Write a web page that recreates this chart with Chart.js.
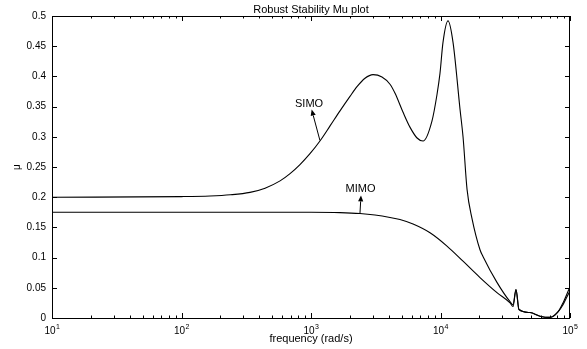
<!DOCTYPE html>
<html><head><meta charset="utf-8">
<script src="https://cdn.jsdelivr.net/npm/chart.js@4/dist/chart.umd.min.js"></script>
<style>html,body{margin:0;padding:0;background:#fff;}canvas{display:block;}</style>
</head><body>
<canvas id="c" width="587" height="349"></canvas>
<script>
// ---- data ----
const simoFreq = [10, 100, 166, 239, 338, 442, 577, 689, 822, 982, 1172, 1403, 1675, 2000, 2265, 2612, 3013, 3532, 4074, 4457, 5129, 5808, 6592, 7328, 8590, 9397, 9908, 10447, 11429, 12503, 14158, 14928, 16032, 17498, 20184, 21281, 27290, 34435, 36308, 38282, 40365, 49091, 58614, 70146, 80724, 88308, 100000];
const simoMu = [0.200, 0.201, 0.202, 0.204, 0.208, 0.215, 0.227, 0.239, 0.254, 0.272, 0.293, 0.318, 0.343, 0.367, 0.383, 0.397, 0.403, 0.399, 0.387, 0.372, 0.341, 0.316, 0.298, 0.293, 0.326, 0.370, 0.405, 0.456, 0.492, 0.456, 0.345, 0.300, 0.213, 0.165, 0.113, 0.102, 0.059, 0.027, 0.022, 0.047, 0.014, 0.009, 0.003, 0.001, 0.010, 0.025, 0.052];
const mimoFreq = [10, 100, 1000, 1675, 2388, 3119, 4074, 4864, 6138, 8299, 11220, 14928, 20184, 27290, 34435, 36308, 38282, 40365, 49091, 58614, 70146, 80724, 88308, 93111, 100000];
const mimoMu = [0.175, 0.175, 0.175, 0.1745, 0.173, 0.1705, 0.1665, 0.163, 0.1555, 0.141, 0.119, 0.094, 0.067, 0.042, 0.025, 0.019, 0.047, 0.014, 0.009, 0.003, 0.001, 0.010, 0.022, 0.032, 0.045];
const xTickValues = [10, 100, 1000, 10000, 100000];
const xTickBases = ['10', '10', '10', '10', '10'];
const xTickExps = ['1', '2', '3', '4', '5'];
const yTickValues = [0, 0.05, 0.1, 0.15, 0.2, 0.25, 0.3, 0.35, 0.4, 0.45, 0.5];
const titleText = 'Robust Stability Mu plot';
const xTitle = 'frequency (rad/s)';
const yTitle = 'μ';
const annotations = [
  {label: 'SIMO', textX: 966, textY: 0.355, tipX: 1012, tipY: 0.345, tailX: 1172, tailY: 0.294},
  {label: 'MIMO', textX: 2410, textY: 0.214, tipX: 2432, tipY: 0.203, tailX: 2388, tailY: 0.173}
];

const FONT = '"Liberation Sans", Arial, Helvetica, sans-serif';

const decor = {
  id: 'decor',
  afterDraw(chart) {
    const {ctx, chartArea: a, scales: {x, y}} = chart;
    const L = Math.round(a.left), R = Math.round(a.right), T = Math.round(a.top), B = Math.round(a.bottom);
    ctx.save();
    ctx.strokeStyle = '#000';
    ctx.fillStyle = '#000';
    ctx.lineWidth = 1;
    ctx.strokeRect(L + 0.5, T + 0.5, R - L - 1, B - T);
    ctx.beginPath();
    x.ticks.forEach(t => {
      const px = Math.round(x.getPixelForValue(t.value)) + 0.5;
      const major = xTickValues.includes(t.value);
      const len = major ? 5 : 2.5;
      ctx.moveTo(px, B); ctx.lineTo(px, B - len);
      ctx.moveTo(px, T); ctx.lineTo(px, T + len);
    });
    yTickValues.forEach(v => {
      const py = Math.round(y.getPixelForValue(v)) + 0.5;
      ctx.moveTo(L, py); ctx.lineTo(L + 5, py);
      ctx.moveTo(R, py); ctx.lineTo(R - 5, py);
    });
    ctx.stroke();
    ctx.textBaseline = 'alphabetic';
    ctx.textAlign = 'left';
    xTickValues.forEach((v, i) => {
      const px = x.getPixelForValue(v);
      ctx.font = '10px ' + FONT;
      const wb = ctx.measureText(xTickBases[i]).width;
      ctx.font = '7px ' + FONT;
      const we = ctx.measureText(xTickExps[i]).width;
      const start = px - (wb + we) / 2;
      ctx.font = '10px ' + FONT;
      ctx.fillText(xTickBases[i], start, B + 15.5);
      ctx.font = '7px ' + FONT;
      ctx.fillText(xTickExps[i], start + wb + 0.3, B + 10.5);
    });
    ctx.font = '11px ' + FONT;
    ctx.textAlign = 'center';
    ctx.fillText(titleText, (L + R) / 2, 12.5);
    ctx.fillText(xTitle, (L + R) / 2, 341.5);
    ctx.save();
    ctx.translate(17, (y.getPixelForValue(0.25)));
    ctx.rotate(-Math.PI / 2);
    ctx.font = '10px ' + FONT;
    ctx.textBaseline = 'middle';
    ctx.fillText(yTitle, 0, 0);
    ctx.restore();
    annotations.forEach(an => {
      const tx = x.getPixelForValue(an.textX), ty = y.getPixelForValue(an.textY);
      const hx = x.getPixelForValue(an.tipX), hy = y.getPixelForValue(an.tipY);
      const sx = x.getPixelForValue(an.tailX), sy = y.getPixelForValue(an.tailY);
      ctx.font = '11px ' + FONT;
      ctx.textAlign = 'center';
      ctx.textBaseline = 'middle';
      ctx.fillText(an.label, tx, ty);
      const ang = Math.atan2(hy - sy, hx - sx);
      const hl = 6, hw = 2.6;
      const bx = hx - hl * Math.cos(ang), by = hy - hl * Math.sin(ang);
      ctx.beginPath();
      ctx.moveTo(sx, sy); ctx.lineTo(bx, by);
      ctx.stroke();
      ctx.beginPath();
      ctx.moveTo(hx, hy);
      ctx.lineTo(bx + hw * Math.sin(ang), by - hw * Math.cos(ang));
      ctx.lineTo(bx - hw * Math.sin(ang), by + hw * Math.cos(ang));
      ctx.closePath();
      ctx.fill();
    });
    ctx.restore();
  }
};

new Chart(document.getElementById('c'), {
  type: 'scatter',
  data: {
    datasets: [
      {label: 'SIMO', data: simoFreq.map((f, i) => ({x: f, y: simoMu[i]})), showLine: true, borderColor: '#000', borderWidth: 1.1, pointRadius: 0, cubicInterpolationMode: 'monotone', fill: false},
      {label: 'MIMO', data: mimoFreq.map((f, i) => ({x: f, y: mimoMu[i]})), showLine: true, borderColor: '#000', borderWidth: 1.1, pointRadius: 0, cubicInterpolationMode: 'monotone', fill: false}
    ]
  },
  options: {
    responsive: false,
    animation: false,
    devicePixelRatio: 1,
    layout: {padding: {left: 0, right: 17, top: 16, bottom: 0}},
    plugins: {legend: {display: false}, tooltip: {enabled: false}, title: {display: false}},
    scales: {
      x: {
        type: 'logarithmic', min: 10, max: 100000,
        grid: {display: false, drawTicks: false}, border: {display: false},
        ticks: {display: false},
        afterBuildTicks(s) {
          const t = [];
          for (let d = 10; d < 100000; d *= 10) {
            for (let m = 1; m < 10; m++) t.push({value: d * m});
          }
          t.push({value: 100000});
          s.ticks = t;
        },
        afterFit(s) { s.height = 31; }
      },
      y: {
        type: 'linear', min: 0, max: 0.5,
        grid: {display: false, drawTicks: false}, border: {display: false},
        ticks: {stepSize: 0.05, color: '#000', padding: 6, font: {family: FONT, size: 10},
          callback: v => String(parseFloat(Number(v).toFixed(2)))},
        afterFit(s) { s.width = 52; }
      }
    }
  },
  plugins: [decor]
});
</script>
</body></html>
